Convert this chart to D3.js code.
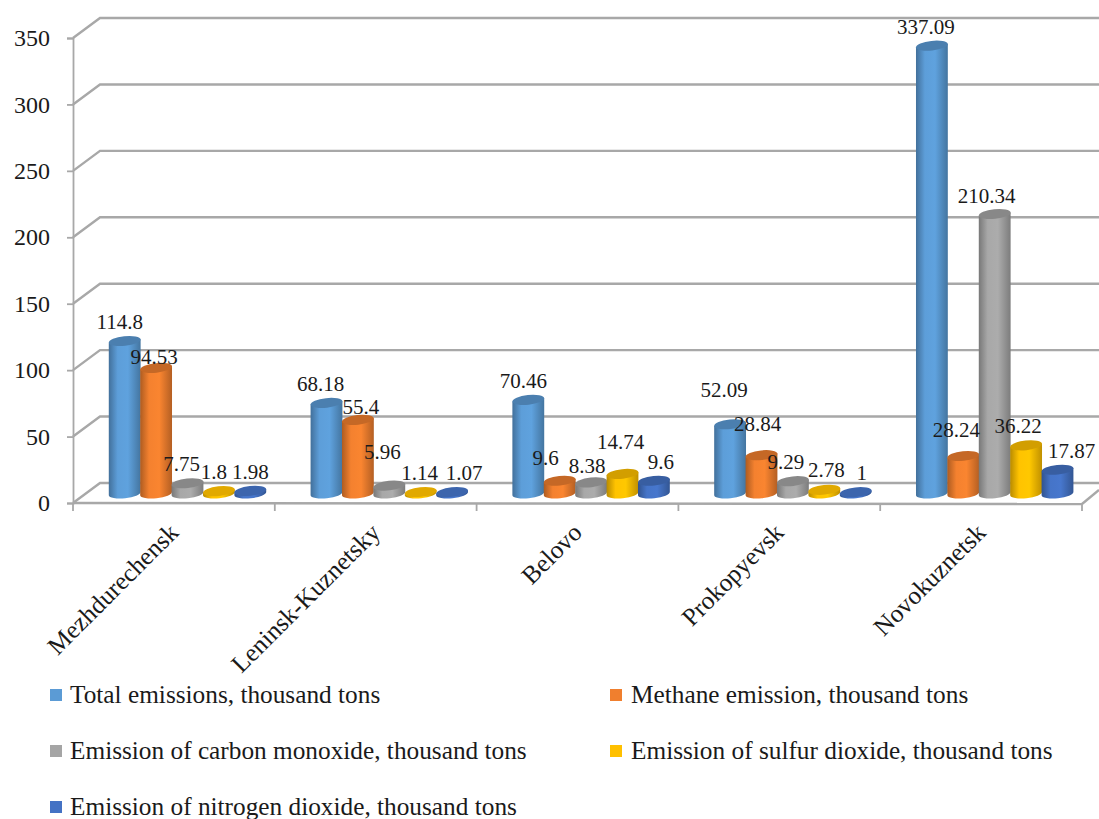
<!DOCTYPE html>
<html>
<head>
<meta charset="utf-8">
<script src="https://cdn.jsdelivr.net/npm/d3@7"></script>
<style>
  html, body { margin: 0; padding: 0; background: #fff; }
  text { font-family: "Liberation Serif", serif; fill: #1a1a1a; }
</style>
</head>
<body>
<svg id="chart" width="1099" height="819"></svg>
<script>
const cities = ["Mezhdurechensk", "Leninsk-Kuznetsky", "Belovo", "Prokopyevsk", "Novokuznetsk"];
const seriesNames = [
  "Total emissions, thousand tons",
  "Methane emission, thousand tons",
  "Emission of carbon monoxide, thousand tons",
  "Emission of sulfur dioxide, thousand tons",
  "Emission of nitrogen dioxide, thousand tons"
];
const totalEmissions = [114.8, 68.18, 70.46, 52.09, 337.09];
const methane = [94.53, 55.4, 9.6, 28.84, 28.24];
const carbonMonoxide = [7.75, 5.96, 8.38, 9.29, 210.34];
const sulfurDioxide = [1.8, 1.14, 14.74, 2.78, 36.22];
const nitrogenDioxide = [1.98, 1.07, 9.6, 1, 17.87];
const yTicks = [0, 50, 100, 150, 200, 250, 300, 350];

const seriesValues = [totalEmissions, methane, carbonMonoxide, sulfurDioxide, nitrogenDioxide];
const colors = ["#5b9bd5", "#f07f2e", "#a5a5a5", "#ffc000", "#4472c4"];

// hand placed labels in the original, offset from the top of each bar [dx, dy]
const labelShift = [
  [[-5, -12], [-2, -4], [-6, -12], [-5, -12], [0, -12]],
  [[-6, -12], [3, -6], [-7, -27], [-1, -12], [12, -12]],
  [[-5, -12], [-14, -16], [-4, -9], [-2, -25], [7, -12]],
  [[-6, -27], [-4, -24], [-7, -12], [2, -13], [6, -12]],
  [[-6, -12], [-7, -19], [-8, -11], [-8, -12], [14, -12]]
];

const svg = d3.select("#chart");
const depthX = 27, depthY = -20;
const left = 73, right = 1082, yZero = 503, yTop = 38;

const y = d3.scaleLinear().domain([0, 350]).range([yZero, yTop]);
const x = d3.scaleBand().domain(cities).range([left, right]);
const barX = d3.scaleBand().domain(seriesNames).range([36, 193]);

// walls and floor
const grid = svg.append("g").attr("fill", "none").attr("stroke", "#a8a8a8").attr("stroke-width", 2.4);
yTicks.forEach(t => {
  grid.append("path").attr("d", d3.line()([
    [left, y(t)], [left + depthX, y(t) + depthY], [1099, y(t) + depthY]
  ]));
});
grid.append("path").attr("d", d3.line()([[right, yZero + 1], [1099, yZero + 1 + depthY * 0.7]]));
grid.append("path").attr("d", d3.line()([[left, yZero], [right, yZero + 1]]));

// axes
const yAxis = d3.axisLeft(y).tickValues(yTicks).tickSize(6).tickPadding(17);
const gy = svg.append("g").attr("transform", `translate(${left},0)`).call(yAxis);
gy.selectAll("path,line").attr("stroke", "#a8a8a8").attr("stroke-width", 1.8);
gy.selectAll("text").attr("font-size", 24).attr("font-family", "Liberation Serif").attr("fill", "#1a1a1a");

const catTicks = cities.map(c => x(c)).concat([right]);
svg.append("g").selectAll("line").data(catTicks).join("line")
  .attr("x1", d => d).attr("x2", d => d)
  .attr("y1", yZero).attr("y2", yZero + 8)
  .attr("stroke", "#a8a8a8").attr("stroke-width", 1.8);

svg.append("g").selectAll("text").data(cities).join("text")
  .attr("transform", d => `translate(${x(d) + x.bandwidth() / 2 + 6},${yZero + 31}) rotate(-45)`)
  .attr("text-anchor", "end")
  .attr("font-size", 25.3)
  .text(d => d);

// cylinder shading, one gradient per series
const defs = svg.append("defs");
colors.forEach((c, i) => {
  const base = d3.color(c);
  const g = defs.append("linearGradient").attr("id", "cyl" + i)
    .attr("x1", 0).attr("x2", 1).attr("y1", 0).attr("y2", 0);
  g.append("stop").attr("offset", "0%").attr("stop-color", base.darker(0.9));
  g.append("stop").attr("offset", "28%").attr("stop-color", base.brighter(0.05));
  g.append("stop").attr("offset", "60%").attr("stop-color", base.brighter(0.12));
  g.append("stop").attr("offset", "100%").attr("stop-color", base.darker(0.8));
});

const rx = 16, ry = 4.8, tilt = -6;
const baseY = y(0) - 9.5;
const sx = rx * Math.cos(tilt * Math.PI / 180);
const sy = rx * Math.sin(tilt * Math.PI / 180);

const bars = [];
cities.forEach((city, c) => {
  seriesNames.forEach((name, s) => {
    const v = seriesValues[s][c];
    const cx = x(city) + barX(name) + barX.bandwidth() / 2;
    bars.push({ c, s, v, cx, top: baseY - (y(0) - y(v)) });
  });
});

const barG = svg.append("g").selectAll("g").data(bars).join("g");
barG.append("path")
  .attr("fill", d => `url(#cyl${d.s})`)
  .attr("d", d =>
    `M${d.cx - sx},${d.top - sy}` +
    `L${d.cx - sx},${baseY - sy}` +
    `A${rx},${ry} ${tilt} 0 0 ${d.cx + sx},${baseY + sy}` +
    `L${d.cx + sx},${d.top + sy}Z`);
barG.append("ellipse")
  .attr("cx", 0).attr("cy", 0).attr("rx", rx).attr("ry", ry)
  .attr("transform", d => `translate(${d.cx},${d.top}) rotate(${tilt})`)
  .attr("fill", d => d3.color(colors[d.s]).darker(d.v < 3 ? 0.35 : 0.55));

// value labels
svg.append("g").selectAll("text").data(bars).join("text")
  .attr("x", d => d.cx + labelShift[d.c][d.s][0])
  .attr("y", d => d.top + labelShift[d.c][d.s][1])
  .attr("text-anchor", "middle")
  .attr("font-size", 21)
  .text(d => d.v);

// legend
const legendCol = d3.scalePoint().domain([0, 1]).range([50, 610]);
const legendRow = d3.scalePoint().domain([0, 1, 2]).range([703, 815]);
const legend = svg.append("g").selectAll("g").data(seriesNames).join("g")
  .attr("transform", (d, i) => `translate(${legendCol(i % 2)},${legendRow(Math.floor(i / 2))})`);
legend.append("rect")
  .attr("x", 0).attr("y", -14).attr("width", 12).attr("height", 12)
  .attr("fill", (d, i) => colors[i]);
legend.append("text")
  .attr("x", (d, i) => i % 2 ? 21 : 20)
  .attr("font-size", 25.3)
  .text(d => d);
</script>
</body>
</html>
